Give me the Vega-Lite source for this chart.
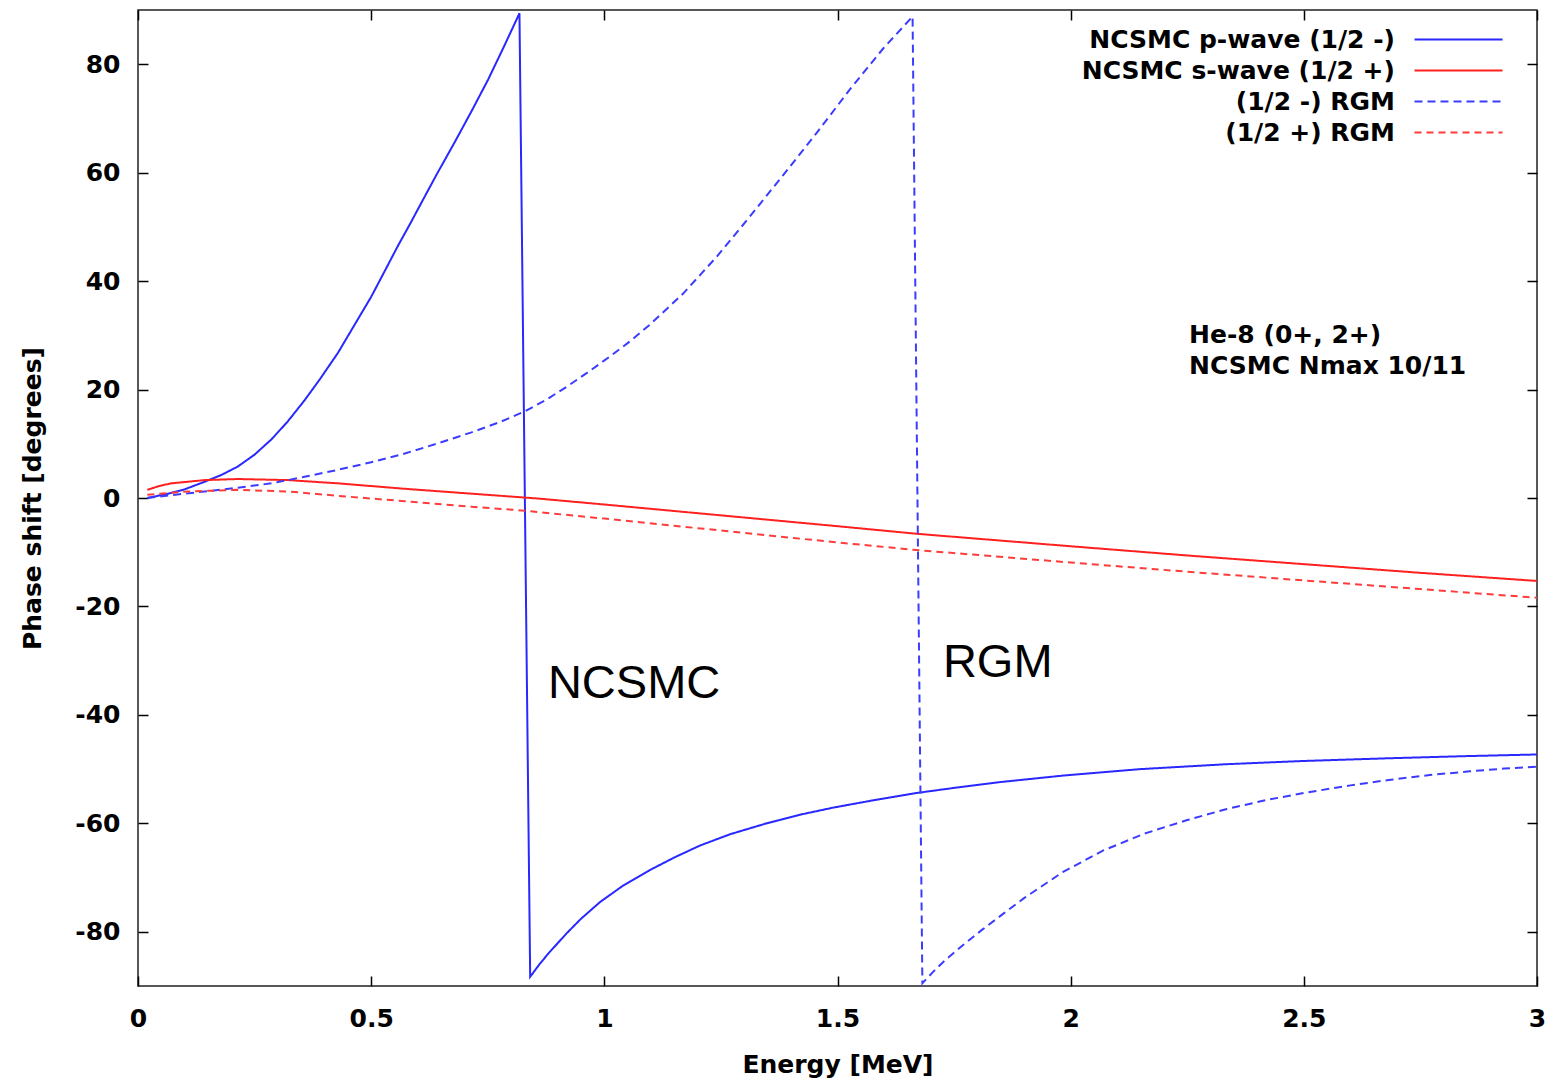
{
  "$schema": "https://vega.github.io/schema/vega-lite/v6.json",
  "width": 1399,
  "height": 976,
  "autosize": {"type": "none"},
  "padding": {"left": 138, "top": 10, "right": 27, "bottom": 95},
  "background": "white",
  "config": {
    "view": {"stroke": "#222", "strokeWidth": 1.5},
    "font": "DejaVu Sans",
    "axis": {
      "grid": false,
      "domain": false,
      "tickColor": "#000",
      "tickWidth": 1.5,
      "tickSize": -10,
      "labelFlush": false,
      "labelFont": "DejaVu Sans",
      "labelFontWeight": "bold",
      "labelFontSize": 25,
      "labelColor": "#000",
      "titleFont": "DejaVu Sans",
      "titleFontWeight": "bold",
      "titleFontSize": 25,
      "titleColor": "#000"
    }
  },
  "datasets": {
    "curves": [
      {"series": "NCSMC p-wave (1/2 -)", "energy": 0.02, "phase": 0},
      {"series": "NCSMC p-wave (1/2 -)", "energy": 0.07, "phase": 0.9},
      {"series": "NCSMC p-wave (1/2 -)", "energy": 0.1, "phase": 1.6},
      {"series": "NCSMC p-wave (1/2 -)", "energy": 0.143, "phase": 3.0},
      {"series": "NCSMC p-wave (1/2 -)", "energy": 0.18, "phase": 4.3},
      {"series": "NCSMC p-wave (1/2 -)", "energy": 0.214, "phase": 5.8},
      {"series": "NCSMC p-wave (1/2 -)", "energy": 0.25, "phase": 8.0},
      {"series": "NCSMC p-wave (1/2 -)", "energy": 0.286, "phase": 10.8},
      {"series": "NCSMC p-wave (1/2 -)", "energy": 0.32, "phase": 14.0},
      {"series": "NCSMC p-wave (1/2 -)", "energy": 0.357, "phase": 18.0},
      {"series": "NCSMC p-wave (1/2 -)", "energy": 0.39, "phase": 21.9},
      {"series": "NCSMC p-wave (1/2 -)", "energy": 0.429, "phase": 26.8},
      {"series": "NCSMC p-wave (1/2 -)", "energy": 0.46, "phase": 31.3},
      {"series": "NCSMC p-wave (1/2 -)", "energy": 0.5, "phase": 37.1},
      {"series": "NCSMC p-wave (1/2 -)", "energy": 0.53, "phase": 42.0},
      {"series": "NCSMC p-wave (1/2 -)", "energy": 0.558, "phase": 46.6},
      {"series": "NCSMC p-wave (1/2 -)", "energy": 0.585, "phase": 50.8},
      {"series": "NCSMC p-wave (1/2 -)", "energy": 0.608, "phase": 54.5},
      {"series": "NCSMC p-wave (1/2 -)", "energy": 0.64, "phase": 59.6},
      {"series": "NCSMC p-wave (1/2 -)", "energy": 0.679, "phase": 65.6},
      {"series": "NCSMC p-wave (1/2 -)", "energy": 0.715, "phase": 71.3},
      {"series": "NCSMC p-wave (1/2 -)", "energy": 0.751, "phase": 77.2},
      {"series": "NCSMC p-wave (1/2 -)", "energy": 0.785, "phase": 83.3},
      {"series": "NCSMC p-wave (1/2 -)", "energy": 0.818, "phase": 89.4},
      {"series": "NCSMC p-wave (1/2 -)", "energy": 0.841, "phase": -88.3},
      {"series": "NCSMC p-wave (1/2 -)", "energy": 0.86, "phase": -86.1},
      {"series": "NCSMC p-wave (1/2 -)", "energy": 0.88, "phase": -84.0},
      {"series": "NCSMC p-wave (1/2 -)", "energy": 0.9, "phase": -82.1},
      {"series": "NCSMC p-wave (1/2 -)", "energy": 0.919, "phase": -80.3},
      {"series": "NCSMC p-wave (1/2 -)", "energy": 0.95, "phase": -77.6},
      {"series": "NCSMC p-wave (1/2 -)", "energy": 0.991, "phase": -74.5},
      {"series": "NCSMC p-wave (1/2 -)", "energy": 1.04, "phase": -71.5},
      {"series": "NCSMC p-wave (1/2 -)", "energy": 1.07, "phase": -70.0},
      {"series": "NCSMC p-wave (1/2 -)", "energy": 1.098, "phase": -68.6},
      {"series": "NCSMC p-wave (1/2 -)", "energy": 1.15, "phase": -66.3},
      {"series": "NCSMC p-wave (1/2 -)", "energy": 1.205, "phase": -64.1},
      {"series": "NCSMC p-wave (1/2 -)", "energy": 1.27, "phase": -62.0},
      {"series": "NCSMC p-wave (1/2 -)", "energy": 1.348, "phase": -60.0},
      {"series": "NCSMC p-wave (1/2 -)", "energy": 1.42, "phase": -58.4},
      {"series": "NCSMC p-wave (1/2 -)", "energy": 1.491, "phase": -57.1},
      {"series": "NCSMC p-wave (1/2 -)", "energy": 1.58, "phase": -55.7},
      {"series": "NCSMC p-wave (1/2 -)", "energy": 1.67, "phase": -54.4},
      {"series": "NCSMC p-wave (1/2 -)", "energy": 1.76, "phase": -53.35},
      {"series": "NCSMC p-wave (1/2 -)", "energy": 1.848, "phase": -52.4},
      {"series": "NCSMC p-wave (1/2 -)", "energy": 1.983, "phase": -51.2},
      {"series": "NCSMC p-wave (1/2 -)", "energy": 2.15, "phase": -50.0},
      {"series": "NCSMC p-wave (1/2 -)", "energy": 2.333, "phase": -49.1},
      {"series": "NCSMC p-wave (1/2 -)", "energy": 2.5, "phase": -48.5},
      {"series": "NCSMC p-wave (1/2 -)", "energy": 2.682, "phase": -48.0},
      {"series": "NCSMC p-wave (1/2 -)", "energy": 2.85, "phase": -47.6},
      {"series": "NCSMC p-wave (1/2 -)", "energy": 3.0, "phase": -47.3},

      {"series": "NCSMC s-wave (1/2 +)", "energy": 0.02, "phase": 1.5},
      {"series": "NCSMC s-wave (1/2 +)", "energy": 0.045, "phase": 2.2},
      {"series": "NCSMC s-wave (1/2 +)", "energy": 0.071, "phase": 2.7},
      {"series": "NCSMC s-wave (1/2 +)", "energy": 0.143, "phase": 3.3},
      {"series": "NCSMC s-wave (1/2 +)", "energy": 0.214, "phase": 3.5},
      {"series": "NCSMC s-wave (1/2 +)", "energy": 0.322, "phase": 3.3},
      {"series": "NCSMC s-wave (1/2 +)", "energy": 0.429, "phase": 2.7},
      {"series": "NCSMC s-wave (1/2 +)", "energy": 0.572, "phase": 1.7},
      {"series": "NCSMC s-wave (1/2 +)", "energy": 0.715, "phase": 0.8},
      {"series": "NCSMC s-wave (1/2 +)", "energy": 0.858, "phase": -0.1},
      {"series": "NCSMC s-wave (1/2 +)", "energy": 1.0, "phase": -1.2},
      {"series": "NCSMC s-wave (1/2 +)", "energy": 1.25, "phase": -3.2},
      {"series": "NCSMC s-wave (1/2 +)", "energy": 1.5, "phase": -5.2},
      {"series": "NCSMC s-wave (1/2 +)", "energy": 1.67, "phase": -6.6},
      {"series": "NCSMC s-wave (1/2 +)", "energy": 2.0, "phase": -8.9},
      {"series": "NCSMC s-wave (1/2 +)", "energy": 2.25, "phase": -10.6},
      {"series": "NCSMC s-wave (1/2 +)", "energy": 2.5, "phase": -12.2},
      {"series": "NCSMC s-wave (1/2 +)", "energy": 2.75, "phase": -13.8},
      {"series": "NCSMC s-wave (1/2 +)", "energy": 3.0, "phase": -15.3},

      {"series": "(1/2 -) RGM", "energy": 0.02, "phase": 0},
      {"series": "(1/2 -) RGM", "energy": 0.08, "phase": 0.6},
      {"series": "(1/2 -) RGM", "energy": 0.143, "phase": 1.2},
      {"series": "(1/2 -) RGM", "energy": 0.214, "phase": 1.9},
      {"series": "(1/2 -) RGM", "energy": 0.286, "phase": 2.7},
      {"series": "(1/2 -) RGM", "energy": 0.357, "phase": 3.9},
      {"series": "(1/2 -) RGM", "energy": 0.429, "phase": 5.2},
      {"series": "(1/2 -) RGM", "energy": 0.5, "phase": 6.6},
      {"series": "(1/2 -) RGM", "energy": 0.572, "phase": 8.2},
      {"series": "(1/2 -) RGM", "energy": 0.64, "phase": 10.0},
      {"series": "(1/2 -) RGM", "energy": 0.715, "phase": 12.1},
      {"series": "(1/2 -) RGM", "energy": 0.776, "phase": 14.0},
      {"series": "(1/2 -) RGM", "energy": 0.83, "phase": 16.0},
      {"series": "(1/2 -) RGM", "energy": 0.875, "phase": 18.1},
      {"series": "(1/2 -) RGM", "energy": 0.919, "phase": 20.5},
      {"series": "(1/2 -) RGM", "energy": 0.965, "phase": 23.2},
      {"series": "(1/2 -) RGM", "energy": 1.012, "phase": 26.1},
      {"series": "(1/2 -) RGM", "energy": 1.055, "phase": 28.9},
      {"series": "(1/2 -) RGM", "energy": 1.098, "phase": 32.0},
      {"series": "(1/2 -) RGM", "energy": 1.169, "phase": 37.7},
      {"series": "(1/2 -) RGM", "energy": 1.241, "phase": 44.5},
      {"series": "(1/2 -) RGM", "energy": 1.312, "phase": 51.9},
      {"series": "(1/2 -) RGM", "energy": 1.384, "phase": 59.6},
      {"series": "(1/2 -) RGM", "energy": 1.455, "phase": 67.3},
      {"series": "(1/2 -) RGM", "energy": 1.527, "phase": 75.4},
      {"series": "(1/2 -) RGM", "energy": 1.598, "phase": 82.9},
      {"series": "(1/2 -) RGM", "energy": 1.661, "phase": 88.8},
      {"series": "(1/2 -) RGM", "energy": 1.682, "phase": -89.5},
      {"series": "(1/2 -) RGM", "energy": 1.705, "phase": -87.4},
      {"series": "(1/2 -) RGM", "energy": 1.73, "phase": -85.3},
      {"series": "(1/2 -) RGM", "energy": 1.77, "phase": -82.4},
      {"series": "(1/2 -) RGM", "energy": 1.809, "phase": -79.7},
      {"series": "(1/2 -) RGM", "energy": 1.855, "phase": -76.7},
      {"series": "(1/2 -) RGM", "energy": 1.9, "phase": -73.8},
      {"series": "(1/2 -) RGM", "energy": 1.983, "phase": -69.0},
      {"series": "(1/2 -) RGM", "energy": 2.07, "phase": -65.0},
      {"series": "(1/2 -) RGM", "energy": 2.158, "phase": -61.9},
      {"series": "(1/2 -) RGM", "energy": 2.25, "phase": -59.4},
      {"series": "(1/2 -) RGM", "energy": 2.333, "phase": -57.4},
      {"series": "(1/2 -) RGM", "energy": 2.42, "phase": -55.7},
      {"series": "(1/2 -) RGM", "energy": 2.507, "phase": -54.3},
      {"series": "(1/2 -) RGM", "energy": 2.6, "phase": -53.0},
      {"series": "(1/2 -) RGM", "energy": 2.682, "phase": -52.0},
      {"series": "(1/2 -) RGM", "energy": 2.77, "phase": -51.1},
      {"series": "(1/2 -) RGM", "energy": 2.856, "phase": -50.4},
      {"series": "(1/2 -) RGM", "energy": 2.93, "phase": -49.9},
      {"series": "(1/2 -) RGM", "energy": 3.0, "phase": -49.55},

      {"series": "(1/2 +) RGM", "energy": 0.02, "phase": 0.6},
      {"series": "(1/2 +) RGM", "energy": 0.107, "phase": 1.2},
      {"series": "(1/2 +) RGM", "energy": 0.214, "phase": 1.5},
      {"series": "(1/2 +) RGM", "energy": 0.322, "phase": 1.2},
      {"series": "(1/2 +) RGM", "energy": 0.429, "phase": 0.4},
      {"series": "(1/2 +) RGM", "energy": 0.572, "phase": -0.6},
      {"series": "(1/2 +) RGM", "energy": 0.715, "phase": -1.6},
      {"series": "(1/2 +) RGM", "energy": 0.822, "phase": -2.3},
      {"series": "(1/2 +) RGM", "energy": 1.0, "phase": -3.8},
      {"series": "(1/2 +) RGM", "energy": 1.25, "phase": -6.0},
      {"series": "(1/2 +) RGM", "energy": 1.5, "phase": -8.2},
      {"series": "(1/2 +) RGM", "energy": 1.67, "phase": -9.6},
      {"series": "(1/2 +) RGM", "energy": 2.0, "phase": -11.9},
      {"series": "(1/2 +) RGM", "energy": 2.25, "phase": -13.6},
      {"series": "(1/2 +) RGM", "energy": 2.5, "phase": -15.2},
      {"series": "(1/2 +) RGM", "energy": 2.75, "phase": -16.8},
      {"series": "(1/2 +) RGM", "energy": 3.0, "phase": -18.4}
    ],
    "plain_notes": [
      {"energy": 0.879, "phase": -34.3, "label": "NCSMC"},
      {"energy": 1.726, "phase": -30.4, "label": "RGM"}
    ],
    "bold_notes": [
      {"energy": 2.254, "phase": 30.1, "label": "He-8 (0+, 2+)"},
      {"energy": 2.254, "phase": 24.3, "label": "NCSMC Nmax 10/11"}
    ]
  },
  "layer": [
    {
      "data": {"name": "curves"},
      "mark": {"type": "line", "strokeWidth": 2, "clip": true},
      "encoding": {
        "x": {
          "field": "energy",
          "type": "quantitative",
          "scale": {"domain": [0, 3], "nice": false, "zero": false},
          "axis": {
            "title": "Energy [MeV]",
            "values": [0, 0.5, 1, 1.5, 2, 2.5, 3],
            "labelExpr": "'' + datum.value",
            "labelPadding": 30,
            "titlePadding": 21
          }
        },
        "y": {
          "field": "phase",
          "type": "quantitative",
          "scale": {"domain": [-90, 90], "nice": false, "zero": false},
          "axis": {
            "title": "Phase shift [degrees]",
            "values": [-80, -60, -40, -20, 0, 20, 40, 60, 80],
            "labelExpr": "'' + datum.value",
            "labelPadding": 28,
            "titlePadding": 29
          }
        },
        "color": {
          "field": "series",
          "type": "nominal",
          "scale": {
            "domain": ["NCSMC p-wave (1/2 -)", "NCSMC s-wave (1/2 +)", "(1/2 -) RGM", "(1/2 +) RGM"],
            "range": ["#2828ff", "#ff2020", "#3c3cff", "#ff3c3c"]
          },
          "legend": {
            "title": null,
            "orient": "none",
            "legendX": 1308,
            "legendY": 17,
            "symbolType": "M-4,0H4",
            "symbolSize": 484,
            "symbolStrokeWidth": 2,
            "rowPadding": 5,
            "labelAlign": "right",
            "labelOffset": -76,
            "labelFont": "DejaVu Sans",
            "labelFontWeight": "bold",
            "labelFontSize": 25,
            "labelColor": "#000",
            "labelLimit": 600,
            "padding": 0
          }
        },
        "strokeDash": {
          "field": "series",
          "type": "nominal",
          "scale": {
            "domain": ["NCSMC p-wave (1/2 -)", "NCSMC s-wave (1/2 +)", "(1/2 -) RGM", "(1/2 +) RGM"],
            "range": [[1, 0], [1, 0], [8, 5], [7, 5]]
          },
          "legend": {
            "title": null,
            "orient": "none",
            "legendX": 1308,
            "legendY": 17,
            "symbolType": "M-4,0H4",
            "symbolSize": 484,
            "symbolStrokeWidth": 2,
            "rowPadding": 5,
            "labelAlign": "right",
            "labelOffset": -76,
            "labelFont": "DejaVu Sans",
            "labelFontWeight": "bold",
            "labelFontSize": 25,
            "labelColor": "#000",
            "labelLimit": 600,
            "padding": 0
          }
        }
      }
    },
    {
      "data": {"name": "curves"},
      "mark": {"type": "point", "opacity": 0},
      "encoding": {
        "x": {
          "field": "energy",
          "type": "quantitative",
          "axis": {"orient": "top", "labels": false, "title": null, "values": [0, 0.5, 1, 1.5, 2, 2.5, 3]}
        },
        "y": {
          "field": "phase",
          "type": "quantitative",
          "axis": {"orient": "right", "labels": false, "title": null, "values": [-80, -60, -40, -20, 0, 20, 40, 60, 80]}
        }
      }
    },
    {
      "data": {"name": "plain_notes"},
      "mark": {"type": "text", "align": "left", "baseline": "middle", "font": "Liberation Sans", "fontSize": 47, "color": "#000"},
      "encoding": {
        "x": {"field": "energy", "type": "quantitative", "axis": null},
        "y": {"field": "phase", "type": "quantitative", "axis": null},
        "text": {"field": "label"}
      }
    },
    {
      "data": {"name": "bold_notes"},
      "mark": {"type": "text", "align": "left", "baseline": "middle", "font": "DejaVu Sans", "fontWeight": "bold", "fontSize": 25, "color": "#000"},
      "encoding": {
        "x": {"field": "energy", "type": "quantitative", "axis": null},
        "y": {"field": "phase", "type": "quantitative", "axis": null},
        "text": {"field": "label"}
      }
    }
  ],
  "resolve": {"axis": {"x": "independent", "y": "independent"}}
}
